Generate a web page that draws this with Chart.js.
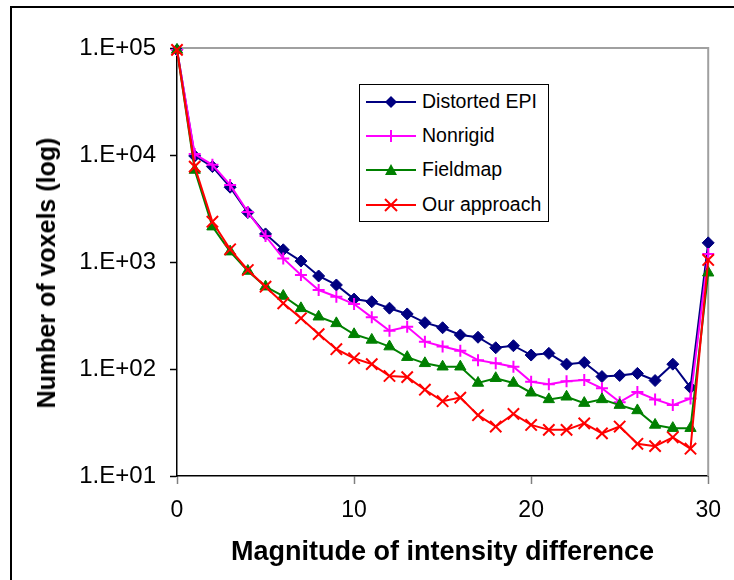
<!DOCTYPE html>
<html>
<head>
<meta charset="utf-8">
<title>Number of voxels vs magnitude of intensity difference</title>
<script src="https://cdn.jsdelivr.net/npm/chart.js@4.4.1/dist/chart.umd.min.js"></script>
<style>
  html, body { margin: 0; padding: 0; background: #fff; overflow: hidden; }
  #wrap { position: relative; width: 734px; height: 580px; overflow: hidden; background: #fff; }
  #frame { position: absolute; left: 10px; top: 6px; width: 800px; height: 700px; border-left: 2px solid #000; border-top: 2px solid #000; }
  #chart { position: absolute; left: 0; top: 0; }
  #ytitle { position: absolute; left: 46px; top: 273px; transform: translate(-50%, -50%) rotate(-90deg);
            font: bold 25px "Liberation Sans", Arial, sans-serif; color: #000; white-space: nowrap; line-height: 30px; }
  #legend { position: absolute; left: 359px; top: 84px; width: 190px; height: 138px; box-sizing: border-box;
            border: 1.5px solid #000; background: #fff; font-family: "Liberation Sans", Arial, sans-serif; font-size: 19.5px; color: #000; }
  .row { position: absolute; left: 6px; height: 20px; line-height: 20px; white-space: nowrap; }
  .row svg { position: absolute; left: 0; top: 2px; }
  .row span { position: absolute; left: 56px; top: -1px; }
</style>
</head>
<body>
<div id="wrap">
  <div id="frame"></div>
  <canvas id="chart" width="734" height="580"></canvas>
  <div id="ytitle">Number of voxels (log)</div>
  <div id="legend">
    <div class="row" style="top:7px">
      <svg width="52" height="16"><line x1="0" y1="8" x2="50" y2="8" stroke="#000080" stroke-width="2"/><polygon points="25,2 31,8 25,14 19,8" fill="#000080"/></svg>
      <span>Distorted EPI</span>
    </div>
    <div class="row" style="top:41px">
      <svg width="52" height="16"><line x1="0" y1="8" x2="50" y2="8" stroke="#ff00ff" stroke-width="2"/><line x1="25" y1="2" x2="25" y2="14" stroke="#ff00ff" stroke-width="2"/><line x1="19" y1="8" x2="31" y2="8" stroke="#ff00ff" stroke-width="2"/></svg>
      <span>Nonrigid</span>
    </div>
    <div class="row" style="top:75px">
      <svg width="52" height="16"><line x1="0" y1="8" x2="50" y2="8" stroke="#008000" stroke-width="2"/><polygon points="25,2 31,13 19,13" fill="#008000"/></svg>
      <span>Fieldmap</span>
    </div>
    <div class="row" style="top:110px">
      <svg width="52" height="16"><line x1="0" y1="8" x2="50" y2="8" stroke="#ff0000" stroke-width="2"/><line x1="19" y1="2" x2="31" y2="14" stroke="#ff0000" stroke-width="2"/><line x1="31" y1="2" x2="19" y2="14" stroke="#ff0000" stroke-width="2"/></svg>
      <span>Our approach</span>
    </div>
  </div>
</div>
<script>
  // values (log scale)
  const magnitude = [0, 1, 2, 3, 4, 5, 6, 7, 8, 9, 10, 11, 12, 13, 14, 15, 16, 17, 18, 19, 20, 21, 22, 23, 24, 25, 26, 27, 28, 29, 30];
  const distortedEPI = [96000, 9800, 7800, 5000, 2900, 1830, 1300, 1020, 740, 610, 450, 425, 370, 327, 271, 243, 208, 198, 158, 165, 135, 140, 111, 115, 85, 87, 91, 78, 111, 67, 1510];
  const nonrigid = [96000, 10200, 8100, 5250, 2930, 1750, 1080, 756, 547, 474, 405, 304, 228, 248, 180, 162, 148, 121, 113, 105, 76, 72, 77, 79, 66, 49, 61, 52, 46, 53, 1190];
  const fieldmap = [96000, 7240, 2140, 1250, 824, 588, 481, 369, 308, 267, 211, 187, 162, 129, 113, 105, 105, 74, 82, 74, 60, 52, 55, 48, 52, 46, 41, 30, 28, 28, 794];
  const ourApproach = [96000, 7780, 2380, 1315, 842, 588, 411, 298, 212, 153, 126, 111, 86, 84, 64, 50, 54, 37, 29, 38, 30, 27, 27, 31, 25, 29, 20, 19, 23, 18, 1045];

  const xTickValues = [0, 10, 20, 30];
  const xTickLabels = ['0', '10', '20', '30'];
  const yTickValues = [10, 100, 1000, 10000, 100000];
  const yTickLabels = ['1.E+01', '1.E+02', '1.E+03', '1.E+04', '1.E+05'];

  const FONT = '"Liberation Sans", Arial, sans-serif';

  function toPoints(values) {
    return values.map((v, i) => ({ x: magnitude[i], y: v }));
  }

  // gray top/right edges of the plot area
  const plotFrame = {
    id: 'plotFrame',
    beforeDatasetsDraw(chart) {
      const { ctx, chartArea: a } = chart;
      ctx.save();
      ctx.strokeStyle = '#a0a0a0';
      ctx.lineWidth = 2;
      ctx.beginPath();
      ctx.moveTo(a.left, a.top);
      ctx.lineTo(a.right, a.top);
      ctx.lineTo(a.right, a.bottom);
      ctx.stroke();
      ctx.restore();
    }
  };

  const ctx = document.getElementById('chart').getContext('2d');
  new Chart(ctx, {
    type: 'line',
    data: {
      datasets: [
        {
          label: 'Distorted EPI', data: toPoints(distortedEPI), order: 3,
          borderColor: '#000080', backgroundColor: '#000080', borderWidth: 2,
          pointStyle: 'rectRot', pointRadius: 6, pointBorderWidth: 1, tension: 0, clip: false
        },
        {
          label: 'Nonrigid', data: toPoints(nonrigid), order: 2,
          borderColor: '#ff00ff', backgroundColor: '#ff00ff', borderWidth: 2,
          pointStyle: 'cross', pointRadius: 6, pointBorderWidth: 2, tension: 0, clip: false
        },
        {
          label: 'Fieldmap', data: toPoints(fieldmap), order: 1,
          borderColor: '#008000', backgroundColor: '#008000', borderWidth: 2,
          pointStyle: 'triangle', pointRadius: 6.5, pointBorderWidth: 1, tension: 0, clip: false
        },
        {
          label: 'Our approach', data: toPoints(ourApproach), order: 0,
          borderColor: '#ff0000', backgroundColor: '#ff0000', borderWidth: 2,
          pointStyle: 'crossRot', pointRadius: 8, pointBorderWidth: 2, tension: 0, clip: false
        }
      ]
    },
    options: {
      responsive: false,
      animation: false,
      layout: { padding: { top: 48, right: 18, bottom: 0, left: 0 } },
      plugins: { legend: { display: false }, tooltip: { enabled: false } },
      scales: {
        x: {
          type: 'linear', min: 0, max: 30,
          afterBuildTicks: s => { s.ticks = xTickValues.map(v => ({ value: v })); },
          ticks: {
            color: '#000', padding: 13, maxRotation: 0,
            font: { family: FONT, size: 23 },
            callback: v => xTickLabels[xTickValues.indexOf(v)]
          },
          grid: { drawOnChartArea: false, drawTicks: true, tickLength: 8, tickColor: '#808080', tickWidth: 1.5 },
          border: { color: '#000', width: 1.5 },
          title: {
            display: true, text: 'Magnitude of intensity difference', color: '#000',
            font: { family: FONT, size: 27, weight: 'bold' }, padding: { top: 0, bottom: 11 }
          },
          afterFit: s => { s.height = 104; }
        },
        y: {
          type: 'logarithmic', min: 10, max: 100000,
          afterBuildTicks: s => { s.ticks = yTickValues.map(v => ({ value: v })); },
          ticks: {
            color: '#000', padding: 14,
            font: { family: FONT, size: 24 },
            callback: v => yTickLabels[yTickValues.indexOf(v)]
          },
          grid: { drawOnChartArea: false, drawTicks: true, tickLength: 7, tickColor: '#000', tickWidth: 1.5 },
          border: { color: '#000', width: 1.5 },
          title: { display: false },
          afterFit: s => { s.width = 177; }
        }
      }
    },
    plugins: [plotFrame]
  });
</script>
</body>
</html>
